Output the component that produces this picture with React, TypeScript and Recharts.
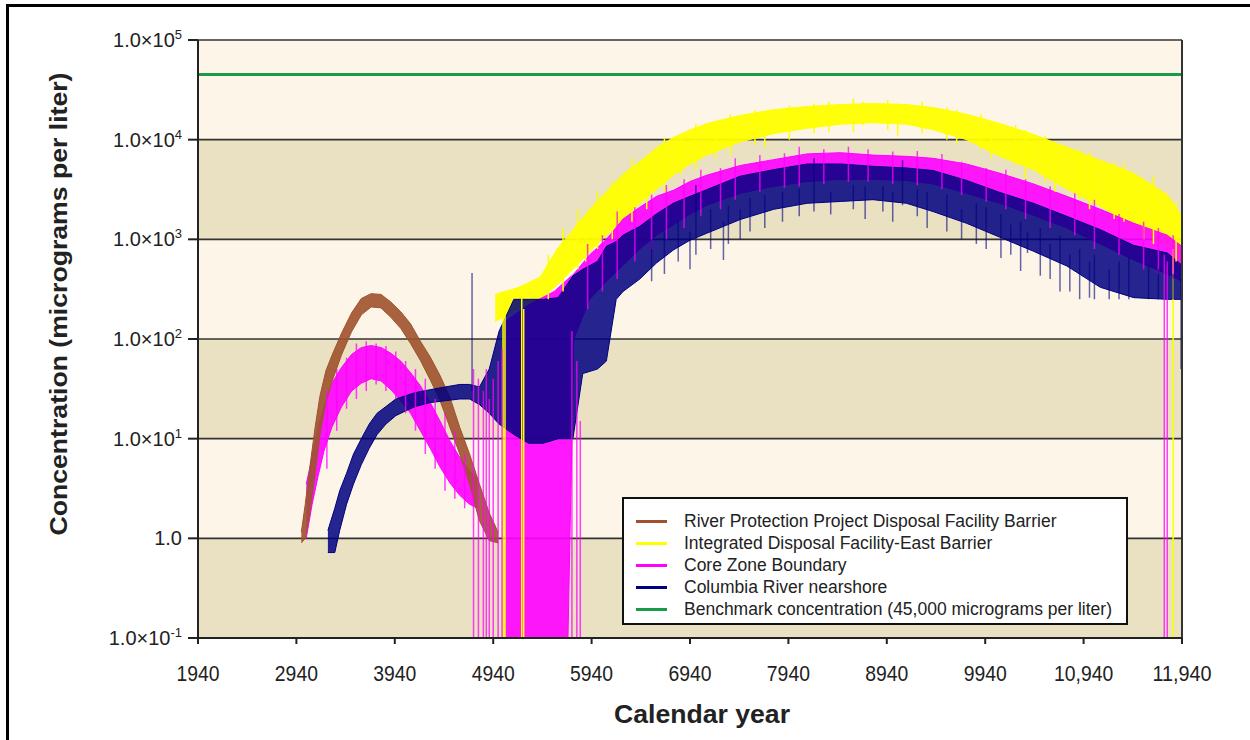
import { ComposedChart, Area, Line, XAxis, YAxis, CartesianGrid, ReferenceLine, Label } from 'recharts';

// [year, low, high] envelopes (the source series are very noisy)
const BROWN: [number, number, number][] = [
  [2990, 0.9, 1.15], [3030, 1.0, 2.2], [3080, 1.9, 5.5], [3130, 4.5, 13], [3180, 11, 27],
  [3240, 23, 48], [3300, 37, 68], [3400, 70, 115], [3500, 118, 182], [3600, 175, 255],
  [3700, 210, 285], [3800, 205, 280], [3900, 165, 235], [4000, 128, 188], [4100, 90, 142],
  [4200, 61, 95], [4300, 39, 66], [4400, 24, 43], [4500, 13, 26], [4600, 7, 13],
  [4700, 3.5, 7], [4800, 1.5, 3.5], [4900, 0.95, 1.8], [4990, 0.9, 1.15],
];

const YELLOW: [number, number, number][] = [
  [4960, 150, 280], [5200, 200, 330], [5420, 250, 420], [5590, 350, 800], [5750, 500, 1250],
  [5920, 750, 2000], [6090, 1100, 3000], [6260, 1600, 4500], [6430, 2300, 6000], [6600, 3200, 8300],
  [6770, 4400, 10500], [6940, 5700, 12500], [7110, 7000, 14500], [7450, 9500, 17500], [7790, 11500, 20000],
  [8130, 13000, 21500], [8470, 14300, 22500], [8800, 14800, 23000], [9140, 14300, 22500], [9410, 12600, 21000],
  [9750, 10000, 18000], [10090, 6800, 14500], [10430, 5000, 11300], [10770, 3200, 8400], [11110, 2150, 6200],
  [11450, 1350, 4600], [11790, 850, 2800], [11940, 530, 1700],
];

const MAGENTA_EARLY: [number, number, number][] = [
  [3040, 1.0, 3.5], [3100, 2.2, 6.5], [3160, 4.2, 13], [3220, 7.5, 21], [3300, 13, 36],
  [3400, 21, 52], [3500, 30, 70], [3600, 36, 82], [3700, 40, 86], [3800, 38, 82],
  [3900, 31, 72], [4000, 24, 60], [4100, 18, 46], [4200, 12, 34], [4300, 8, 23],
  [4400, 5.2, 15], [4500, 3.6, 9.5], [4600, 2.7, 6.5], [4700, 2.2, 4.8], [4780, 2, 4],
];

const MAGENTA_MAIN: [number, number, number][] = [
  [5060, 0.1, 150], [5300, 0.1, 220], [5560, 0.1, 300], [5700, 0.1, 400], [5760, 100, 450],
  [5920, 250, 700], [6090, 380, 1000], [6260, 550, 1600], [6430, 800, 2100], [6600, 1100, 2700],
  [6770, 1400, 3100], [6940, 1800, 3800], [7110, 2200, 4400], [7450, 2900, 5500], [7790, 3400, 6300],
  [8130, 3800, 7200], [8470, 4000, 7400], [8800, 4000, 7000], [9140, 3900, 6800], [9410, 3600, 6500],
  [9750, 2900, 5700], [10090, 2300, 4600], [10430, 1750, 3600], [10770, 1300, 2700], [11110, 900, 2000],
  [11450, 620, 1450], [11790, 450, 1100], [11940, 380, 850],
];

const NAVY: [number, number, number][] = [
  [3260, 0.72, 1.2], [3330, 0.72, 2.0], [3380, 1.2, 3.0], [3450, 2.2, 4.5], [3520, 3.5, 7],
  [3600, 5.5, 10], [3680, 8, 14], [3760, 11, 18], [3850, 14, 21], [3950, 17, 25],
  [4050, 19, 27], [4150, 21, 29], [4300, 23, 31], [4450, 24, 33], [4600, 25, 35],
  [4700, 25, 35], [4800, 22, 33], [4900, 18, 50], [5000, 14, 120], [5150, 11, 250],
  [5300, 9, 250], [5450, 9, 250], [5600, 10, 260], [5750, 10, 430], [5850, 45, 500],
  [6000, 50, 600], [6090, 60, 850], [6190, 250, 950], [6260, 300, 1100], [6430, 400, 1350],
  [6600, 580, 1800], [6770, 780, 2300], [6940, 980, 2700], [7110, 1150, 3150], [7450, 1580, 4300],
  [7790, 2000, 5000], [8130, 2300, 5700], [8470, 2400, 5700], [8800, 2500, 5400], [9140, 2300, 5200],
  [9410, 1900, 4900], [9750, 1450, 3900], [10090, 1050, 2950], [10430, 760, 2300], [10770, 540, 1700],
  [11110, 330, 1250], [11450, 260, 870], [11790, 250, 730], [11940, 250, 550],
];

// vertical spikes (noise): [year, low, high]
const YELLOW_SPIKES: [number, number, number][] = [
  [5040, 0.1, 300], [5060, 0.1, 250], [5230, 0.1, 300], [5250, 0.1, 200], [5500, 250, 700],
  [5650, 300, 1300], [5800, 500, 2000], [5880, 600, 1500], [6000, 800, 3000], [6150, 1000, 3800],
  [6350, 1500, 6500], [6500, 2000, 6500], [6680, 3000, 10500], [6850, 4500, 11000], [7000, 5000, 14500],
  [7200, 6500, 15000], [7350, 7000, 18000], [7600, 9000, 20000], [7700, 8500, 19000], [7950, 10000, 22000],
  [8200, 11500, 23000], [8350, 12000, 24000], [8600, 12000, 26000], [8700, 14000, 24000], [8950, 12500, 25000],
  [9050, 11000, 23000], [9300, 11500, 24000], [9550, 10000, 21000], [9650, 9000, 20000], [9900, 8000, 18000],
  [10000, 6500, 15000], [10250, 5500, 14000], [10350, 4000, 12500], [10550, 3800, 11000], [10650, 3000, 9500],
  [10900, 2500, 8000], [11000, 2000, 7500], [11250, 1600, 6000], [11350, 1500, 5800], [11550, 1000, 4000],
  [11650, 900, 4300], [11850, 0.1, 800], [11880, 600, 2400],
];

const MAGENTA_SPIKES: [number, number, number][] = [
  [3250, 5, 30], [3350, 12, 50], [3450, 20, 65], [3550, 25, 90], [3650, 30, 95],
  [3750, 35, 90], [3850, 30, 85], [3950, 25, 75], [4050, 18, 60], [4150, 12, 50],
  [4250, 7, 40], [4350, 5, 25], [4450, 3, 18], [4550, 2.5, 12], [4650, 2, 7],
  [4740, 0.1, 50], [4790, 0.1, 40], [4840, 0.1, 30], [4870, 0.1, 50], [4900, 0.1, 25],
  [4940, 0.1, 40], [4990, 0.1, 60], [5030, 0.1, 80], [5740, 0.1, 120], [5790, 0.1, 60],
  [5825, 0.1, 15], [5900, 200, 900], [6050, 300, 1100], [6200, 400, 1900], [6380, 600, 2100],
  [6550, 800, 2800], [6700, 1000, 3500], [6880, 1300, 4000], [7050, 1700, 5000], [7250, 2000, 5200],
  [7400, 2500, 6500], [7650, 3000, 7000], [7900, 3300, 7300], [8050, 3400, 8500], [8300, 3600, 8000],
  [8550, 3800, 8500], [8750, 3800, 8000], [9000, 3600, 7600], [9250, 3500, 7700], [9500, 3200, 7200],
  [9700, 2800, 6000], [9950, 2400, 5200], [10150, 2000, 5000], [10350, 1600, 4000], [10600, 1300, 3400],
  [10850, 1100, 2900], [11050, 800, 2500], [11300, 700, 1800], [11550, 500, 1500], [11700, 450, 1300],
  [11760, 0.1, 700], [11790, 0.1, 600], [11850, 400, 1100],
];

const NAVY_SPIKES: [number, number, number][] = [
  [4725, 30, 460], [6550, 380, 1000], [6680, 450, 1200], [6820, 600, 1500], [6940, 500, 1200],
  [7000, 700, 3500], [7150, 800, 2000], [7280, 620, 1500], [7330, 900, 2200], [7450, 1000, 2000],
  [7550, 1200, 2600], [7700, 1300, 2800], [7880, 1500, 3000], [8050, 1700, 3200], [8200, 1900, 6500],
  [8370, 1770, 3000], [8600, 2000, 3500], [8720, 1600, 3400], [8900, 1900, 3400], [9000, 1500, 3000],
  [9100, 2200, 6200], [9250, 1700, 3200], [9350, 1300, 3000], [9550, 1200, 2800], [9700, 1000, 2000],
  [9850, 900, 2300], [9950, 800, 2100], [10100, 650, 1800], [10200, 700, 1400], [10300, 480, 1500],
  [10370, 730, 1200], [10500, 430, 1300], [10600, 400, 900], [10700, 300, 1100], [10800, 300, 700],
  [10900, 250, 800], [11000, 260, 600], [11050, 250, 700], [11200, 250, 500], [11300, 250, 600],
  [11400, 250, 650], [11600, 250, 550], [11700, 250, 500], [11850, 250, 450], [11930, 50, 400],
];

const BENCHMARK = 45000;
const X_TICKS = [1940, 2940, 3940, 4940, 5940, 6940, 7940, 8940, 9940, 10940, 11940];
const Y_TICKS = [0.1, 1, 10, 100, 1000, 10000, 100000];

const LEGEND = [
  { name: 'River Protection Project Disposal Facility Barrier', color: '#A0522D' },
  { name: 'Integrated Disposal Facility-East Barrier', color: '#FFFF00' },
  { name: 'Core Zone Boundary', color: '#FF00FF' },
  { name: 'Columbia River nearshore', color: '#000080' },
  { name: 'Benchmark concentration (45,000 micrograms per liter)', color: '#1B9A4A' },
];

const FONT = '"Liberation Sans", Arial, sans-serif';
const INK = '#222';

const toRange = (rows: [number, number, number][]) => rows.map(([x, lo, hi]) => ({ x, range: [lo, hi] }));
const toSpikes = (rows: [number, number, number][]) =>
  rows.flatMap(([x, lo, hi]) => [{ x, v: hi }, { x, v: lo }, { x, v: null }]);

const benchData = [{ x: 1940, v: BENCHMARK }, { x: 11940, v: BENCHMARK }];

const fmtYear = (v: number) => (v >= 10000 ? `${Math.floor(v / 1000)},${String(v % 1000).padStart(3, '0')}` : String(v));

function XTick({ x, y, payload }: any) {
  const s = fmtYear(payload.value);
  // tall, slightly condensed digits as in the original
  const natural = [...s].reduce((w, c) => w + (c === ',' ? 0.278 : 0.556), 0) * 22;
  return (
    <text x={x} y={y} dy="0.71em" textAnchor="middle" fontSize={22} fill={INK} fontFamily={FONT}
      textLength={natural * 0.88} lengthAdjust="spacingAndGlyphs">
      {s}
    </text>
  );
}

function YTick({ x, y, payload }: any) {
  const exp = Math.round(Math.log10(payload.value));
  return (
    <text x={x} y={y} dy="0.355em" textAnchor="end" fontSize={20} fill={INK} fontFamily={FONT}>
      {exp === 0 ? '1.0' : '1.0×10'}
      {exp !== 0 && <tspan dy={-8} fontSize={13}>{exp}</tspan>}
    </text>
  );
}

export default function App() {
  return (
    <div style={{ position: 'absolute', left: 0, top: 0, width: 1250, height: 740, background: '#fff', fontFamily: FONT }}>
      <div style={{ position: 'absolute', left: 6, top: 4, width: 1244, height: 3, background: '#000' }} />
      <div style={{ position: 'absolute', left: 6, top: 4, width: 3, height: 736, background: '#000' }} />
      <ComposedChart width={1250} height={740} margin={{ top: 40, right: 68, left: 88, bottom: 42 }}>
        <CartesianGrid
          vertical={false}
          horizontal
          stroke="#333"
          strokeWidth={1.6}
          horizontalFill={['#FDF6E8', '#EAE1C3']}
          fillOpacity={1}
        />
        <XAxis
          dataKey="x"
          type="number"
          domain={[1940, 11940]}
          ticks={X_TICKS}
          allowDataOverflow
          stroke={INK}
          strokeWidth={2}
          tickSize={6}
          tickMargin={21}
          height={60}
          tick={<XTick />}
        >
          <Label
            content={() => (
              <text x={702} y={723} textAnchor="middle" fontSize={26} fontWeight="bold" fill={INK} fontFamily={FONT}
                textLength={176} lengthAdjust="spacingAndGlyphs">
                Calendar year
              </text>
            )}
          />
        </XAxis>
        <YAxis
          type="number"
          scale="log"
          domain={[0.1, 100000]}
          ticks={Y_TICKS}
          allowDataOverflow
          width={110}
          stroke={INK}
          strokeWidth={2}
          tickSize={10}
          tickMargin={6}
          tick={<YTick />}
        >
          <Label
            content={() => (
              <text
                transform="translate(67,304) rotate(-90)"
                textAnchor="middle"
                fontSize={23}
                fontWeight="bold"
                fill={INK}
                fontFamily={FONT}
                textLength={463}
                lengthAdjust="spacingAndGlyphs"
              >
                Concentration (micrograms per liter)
              </text>
            )}
          />
        </YAxis>

        <Area data={toRange(YELLOW)} dataKey="range" type="linear" stroke="#FFFF00" strokeWidth={1} fill="#FFFF00" fillOpacity={0.95} isAnimationActive={false} />
        <Line data={toSpikes(YELLOW_SPIKES)} dataKey="v" type="linear" stroke="#FFFF00" strokeWidth={1.5} dot={false} isAnimationActive={false} />
        <Area data={toRange(MAGENTA_EARLY)} dataKey="range" type="linear" stroke="#FF00FF" strokeWidth={1} fill="#FF00FF" fillOpacity={0.9} isAnimationActive={false} />
        <Area data={toRange(MAGENTA_MAIN)} dataKey="range" type="linear" stroke="#FF00FF" strokeWidth={1} fill="#FF00FF" fillOpacity={0.9} isAnimationActive={false} />
        <Line data={toSpikes(MAGENTA_SPIKES)} dataKey="v" type="linear" stroke="#FF00FF" strokeOpacity={0.75} strokeWidth={1.5} dot={false} isAnimationActive={false} />
        <Area data={toRange(BROWN)} dataKey="range" type="linear" stroke="#A0522D" strokeWidth={1} fill="#A0522D" fillOpacity={0.9} isAnimationActive={false} />
        <Area data={toRange(NAVY)} dataKey="range" type="linear" stroke="#000080" strokeWidth={1} fill="#000080" fillOpacity={0.85} isAnimationActive={false} />
        <Line data={toSpikes(NAVY_SPIKES)} dataKey="v" type="linear" stroke="#000080" strokeOpacity={0.6} strokeWidth={1.5} dot={false} isAnimationActive={false} />
        <Line data={benchData} dataKey="v" type="linear" stroke="#1B9A4A" strokeWidth={3} dot={false} isAnimationActive={false} />
        <ReferenceLine x={11940} stroke="#333" strokeWidth={2} />
      </ComposedChart>

      <div
        style={{
          position: 'absolute',
          left: 622,
          top: 497,
          width: 506,
          height: 128,
          border: '2px solid #111',
          background: '#fff',
          boxSizing: 'border-box',
          padding: '11px 0 0 12px',
        }}
      >
        {LEGEND.map((s) => (
          <div key={s.name} style={{ display: 'flex', alignItems: 'center', height: 22, fontSize: 17.5, color: INK, whiteSpace: 'nowrap' }}>
            <span style={{ display: 'inline-block', width: 31, height: 3, background: s.color, marginRight: 17, flex: 'none' }} />
            <span>{s.name}</span>
          </div>
        ))}
      </div>
    </div>
  );
}
